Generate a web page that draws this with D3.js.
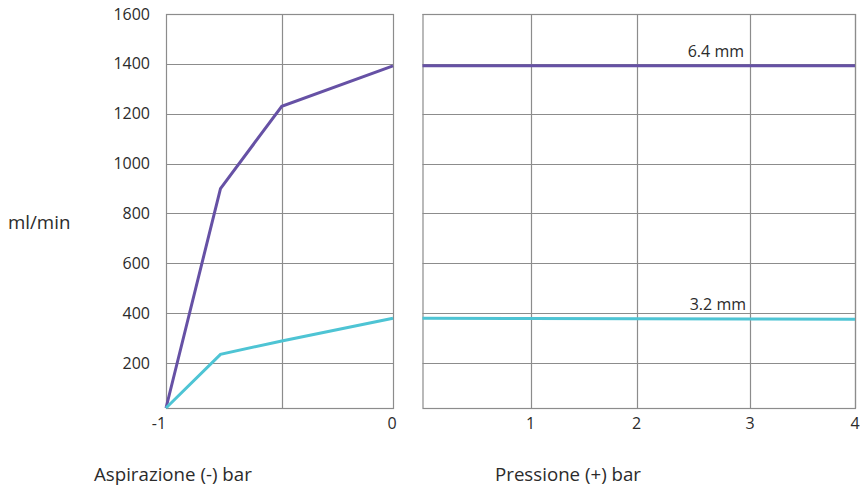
<!DOCTYPE html>
<html><head><meta charset="utf-8">
<script src="https://cdn.jsdelivr.net/npm/d3@7"></script>
<style>body{margin:0;background:#fff}svg{display:block}text{font-family:"Open Sans",sans-serif;font-size:16px;fill:#2b2b2b}text.title{font-size:18.7px}</style>
</head><body><svg id="c" width="863" height="486"></svg>
<script>
// data
const yTicks = [200, 400, 600, 800, 1000, 1200, 1400, 1600];
const leftX = [-1, -0.76, -0.49, 0];
const left64 = [20, 900, 1230, 1392];
const left32 = [20, 235, 289, 380];
const leftGrid = [-0.49];
const leftTickVals = [-1, 0];
const leftTickLabels = ["-1", "0"];
const rightX = [0, 1, 2, 3, 4];
const right64 = [1392, 1392, 1392, 1392, 1392];
const right32 = [380, 379, 378, 377, 376];
const rightTickVals = [1, 1.98, 3.03, 4];
const rightTickLabels = ["1", "2", "3", "4"];
const seriesNames = ["6.4 mm", "3.2 mm"];
const colors = ["#6651a5", "#4ec4d4"];
const yTitle = "ml/min";
const xTitles = ["Aspirazione (-) bar", "Pressione (+) bar"];

const svg = d3.select("#c");
const y = d3.scaleLinear().domain([20, 1600]).range([408, 14]);
const xl = d3.scaleLinear().domain([-1, 0]).range([166, 393]);
const xr = d3.scaleLinear().domain([0, 4]).range([422.5, 855]);
const grid = "#8c8c8c";

function panel(x, xGrid) {
  const g = svg.append("g");
  const [x0, x1] = x.range();
  g.selectAll("line.h").data(yTicks).enter().append("line")
    .attr("x1", x0).attr("x2", x1).attr("y1", d => Math.round(y(d)) + .5).attr("y2", d => Math.round(y(d)) + .5)
    .attr("stroke", grid).attr("stroke-width", 1.2);
  g.selectAll("line.v").data(xGrid).enter().append("line")
    .attr("x1", d => Math.round(x(d)) + .5).attr("x2", d => Math.round(x(d)) + .5).attr("y1", y(1600)).attr("y2", y.range()[0])
    .attr("stroke", grid).attr("stroke-width", 1.2);
  g.append("rect").attr("x", x0 + .5).attr("y", Math.round(y(1600)) + .5)
    .attr("width", x1 - x0).attr("height", y.range()[0] - Math.round(y(1600)))
    .attr("fill", "none").attr("stroke", grid).attr("stroke-width", 1.2);
  return g;
}
panel(xl, leftGrid);
panel(xr, rightTickVals);

const line = (x) => d3.line().x(d => x(d[0])).y(d => y(d[1]));
[[left64, colors[0]], [left32, colors[1]]].forEach(([vals, c]) => {
  svg.append("path").datum(leftX.map((v, i) => [v, vals[i]])).attr("d", line(xl))
    .attr("fill", "none").attr("stroke", c).attr("stroke-width", 3).attr("stroke-linejoin", "miter");
});
[[right64, colors[0]], [right32, colors[1]]].forEach(([vals, c]) => {
  svg.append("path").datum(rightX.map((v, i) => [v, vals[i]])).attr("d", line(xr))
    .attr("fill", "none").attr("stroke", c).attr("stroke-width", 3);
});

// series labels
svg.append("text").attr("x", 744).attr("y", y(right64[3]) - 9).attr("text-anchor", "end").text(seriesNames[0]);
svg.append("text").attr("x", 746).attr("y", y(right32[3]) - 9).attr("text-anchor", "end").text(seriesNames[1]);

// y axis labels
svg.selectAll("text.yt").data(yTicks).enter().append("text")
  .attr("x", 150).attr("y", d => y(d)).attr("dy", "0.35em").attr("text-anchor", "end").text(d => d);
svg.append("text").attr("class", "title").attr("x", 8).attr("y", 222).attr("dy", "0.35em").text(yTitle);

// x tick labels
svg.selectAll("text.xl").data(leftTickVals).enter().append("text")
  .attr("x", (d, i) => xl(d) + (i === 0 ? -7 : -1)).attr("y", 423).attr("dy", "0.35em").attr("text-anchor", "middle")
  .text((d, i) => leftTickLabels[i]);
svg.selectAll("text.xr").data(rightTickVals).enter().append("text")
  .attr("x", d => xr(d)).attr("y", 423).attr("dy", "0.35em").attr("text-anchor", "middle")
  .text((d, i) => rightTickLabels[i]);

svg.append("text").attr("class", "title").attr("x", 94).attr("y", 474).attr("dy", "0.35em").text(xTitles[0]);
svg.append("text").attr("class", "title").attr("x", 495).attr("y", 474).attr("dy", "0.35em").text(xTitles[1]);
</script></body></html>
